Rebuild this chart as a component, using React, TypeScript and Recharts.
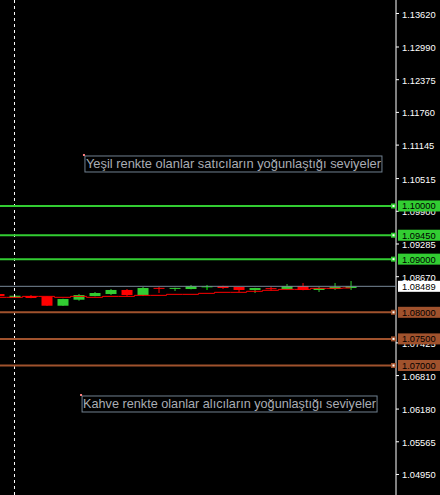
import { ComposedChart, Bar, Line, XAxis, YAxis, ReferenceLine, ReferenceDot } from "recharts";

// candle index (0 = bar under the dashed separator)
const barIndex = [-1, 0, 1, 2, 3, 4, 5, 6, 7, 8, 9, 10, 11, 12, 13, 14, 15, 16, 17, 18, 19, 20, 21];
const opens = [1.08344, 1.08278, 1.08306, 1.08293, 1.08124, 1.08237, 1.08306, 1.08344, 1.0842, 1.08325, 1.0846, 1.08455, 1.08438, 1.08489, 1.08495, 1.08476, 1.0842, 1.08455, 1.08438, 1.08495, 1.0842, 1.08438, 1.08457];
const highs = [1.0835, 1.08319, 1.08325, 1.083, 1.08255, 1.08344, 1.08382, 1.08438, 1.08438, 1.08476, 1.08476, 1.08462, 1.08514, 1.08514, 1.085, 1.0848, 1.0846, 1.08482, 1.08532, 1.08551, 1.08476, 1.08551, 1.08589];
const lows = [1.083, 1.08275, 1.08265, 1.0812, 1.0812, 1.08218, 1.083, 1.08325, 1.08306, 1.08306, 1.08363, 1.08401, 1.08432, 1.0842, 1.08438, 1.08382, 1.08363, 1.0841, 1.08432, 1.08414, 1.08382, 1.0842, 1.0842];
const closes = [1.08306, 1.08312, 1.08269, 1.08124, 1.0825, 1.08325, 1.08363, 1.0842, 1.08325, 1.08457, 1.08455, 1.08459, 1.08495, 1.08489, 1.08457, 1.0842, 1.08457, 1.0845, 1.08495, 1.0842, 1.08457, 1.08476, 1.08489];
const maValues = [1.08282, 1.08282, 1.083, 1.083, 1.08282, 1.083, 1.08282, 1.083, 1.083, 1.08319, 1.08319, 1.08338, 1.08338, 1.08357, 1.08376, 1.08376, 1.08395, 1.08414, 1.08432, 1.08432, 1.08451, 1.08451, 1.08457];

const sellLevels = [1.1, 1.0945, 1.09];
const buyLevels = [1.08, 1.075, 1.07];
const lastPrice = 1.08489;
// 1.08055 sits fully under the 1.08000 tag, so it is left out
const priceTicks = [1.1362, 1.1299, 1.12375, 1.1176, 1.11145, 1.10515, 1.099, 1.09285, 1.0867, 1.07425, 1.0681, 1.0618, 1.05565, 1.0495];

const sellNote = { x: 4.34, y: 1.10959, text: "Yeşil renkte olanlar satıcıların yoğunlaştığı seviyeler" };
const buyNote = { x: 4.16, y: 1.06445, text: "Kahve renkte olanlar alıcıların yoğunlaştığı seviyeler" };

const GREEN = "#32cd32";
const RED = "#ff0000";
const BROWN = "#a0522d";
const FONT = "'Liberation Sans', Arial, sans-serif";

const data = barIndex.map((i, k) => ({
  i,
  open: opens[k],
  high: highs[k],
  low: lows[k],
  close: closes[k],
  ma: maValues[k],
}));

const Candle = (props: any) => {
  const { x, y, width, height, payload } = props;
  const { open, close, high, low } = payload;
  const top = Math.min(y, y + height);
  const h = Math.abs(height);
  const ppu = h / (high - low);
  const yOf = (v: number) => top + (high - v) * ppu;
  const color = close > open ? GREEN : close < open ? RED : "#00ff00";
  const cx = x + width / 2;
  const bTop = yOf(Math.max(open, close));
  const bBot = yOf(Math.min(open, close));
  return (
    <g>
      <line x1={cx} x2={cx} y1={top} y2={top + h} stroke={color} strokeWidth={1} />
      <rect x={x} y={bTop} width={width} height={Math.max(bBot - bTop, 1)} fill={color} />
    </g>
  );
};

const PriceTick = (props: any) => {
  const { x, y, payload } = props;
  return (
    <g>
      <line x1={x - 6} x2={x - 3} y1={y} y2={y} stroke="#fff" />
      <text x={x} y={y + 4} fill="#fff" fontSize={9.3} fontFamily={FONT}>
        {payload.value.toFixed(5)}
      </text>
    </g>
  );
};

const levelTag = (value: number, bg: string, marker: boolean) => (props: any) => {
  const vb = props.viewBox || {};
  const right = vb.x + vb.width;
  const y = vb.y;
  return (
    <g>
      {marker && (
        <g>
          <rect x={right - 5} y={y - 2.5} width={5} height={5} fill={bg} />
          <rect x={right - 3.5} y={y - 1} width={2} height={2} fill="#fff" />
        </g>
      )}
      <rect x={right + 2} y={y - 5.5} width={42} height={11} fill={bg} />
      <text x={right + 6} y={y + 3.5} fill="#000" fontSize={9.3} fontFamily={FONT}>
        {value.toFixed(5)}
      </text>
    </g>
  );
};

const noteShape = (text: string, w: number) => (props: any) => {
  const { cx, cy } = props;
  return (
    <g>
      <rect x={cx + 1} y={cy + 1} width={w} height={16} fill="none" stroke="#708090" strokeWidth={1} />
      <text
        x={cx + 2}
        y={cy + 13.5}
        fill="#a9adb4"
        fontSize={13}
        fontFamily={FONT}
        textLength={w - 2}
        lengthAdjust="spacingAndGlyphs"
      >
        {text}
      </text>
      <rect x={cx - 1} y={cy - 1} width={2} height={2} fill="#ff8080" />
    </g>
  );
};

export default function App() {
  return (
    <div style={{ position: "fixed", left: 0, top: 0, width: 440, height: 495, background: "#000" }}>
      <ComposedChart width={440} height={495} data={data} margin={{ top: 0, right: 0, bottom: 0, left: 0 }}>
        <XAxis dataKey="i" type="number" domain={[-0.906, 23.84]} allowDataOverflow hide />
        <YAxis
          orientation="right"
          width={44}
          domain={[1.04564, 1.13874]}
          allowDataOverflow
          ticks={priceTicks}
          interval={0}
          stroke="#fff"
          tickLine={false}
          tick={<PriceTick />}
          tickMargin={6}
          tickSize={0}
        />
        <ReferenceLine x={0} stroke="#fff" strokeDasharray="3 3" />
        <ReferenceLine y={lastPrice} stroke="#778899" strokeWidth={1} zIndex={2500} label={levelTag(lastPrice, "#fff", false)} />
        <Line dataKey="ma" type="step" stroke={RED} strokeWidth={1} dot={false} isAnimationActive={false} />
        <Bar dataKey={(d: any) => [d.low, d.high]} barSize={11} shape={<Candle />} isAnimationActive={false} />
        {sellLevels.map((v) => (
          <ReferenceLine key={v} y={v} stroke={GREEN} strokeWidth={2} zIndex={2500} label={levelTag(v, GREEN, true)} />
        ))}
        {buyLevels.map((v) => (
          <ReferenceLine key={v} y={v} stroke={BROWN} strokeWidth={2} zIndex={2500} label={levelTag(v, BROWN, true)} />
        ))}
        <ReferenceDot x={sellNote.x} y={sellNote.y} shape={noteShape(sellNote.text, 297)} />
        <ReferenceDot x={buyNote.x} y={buyNote.y} shape={noteShape(buyNote.text, 295)} />
      </ComposedChart>
    </div>
  );
}
